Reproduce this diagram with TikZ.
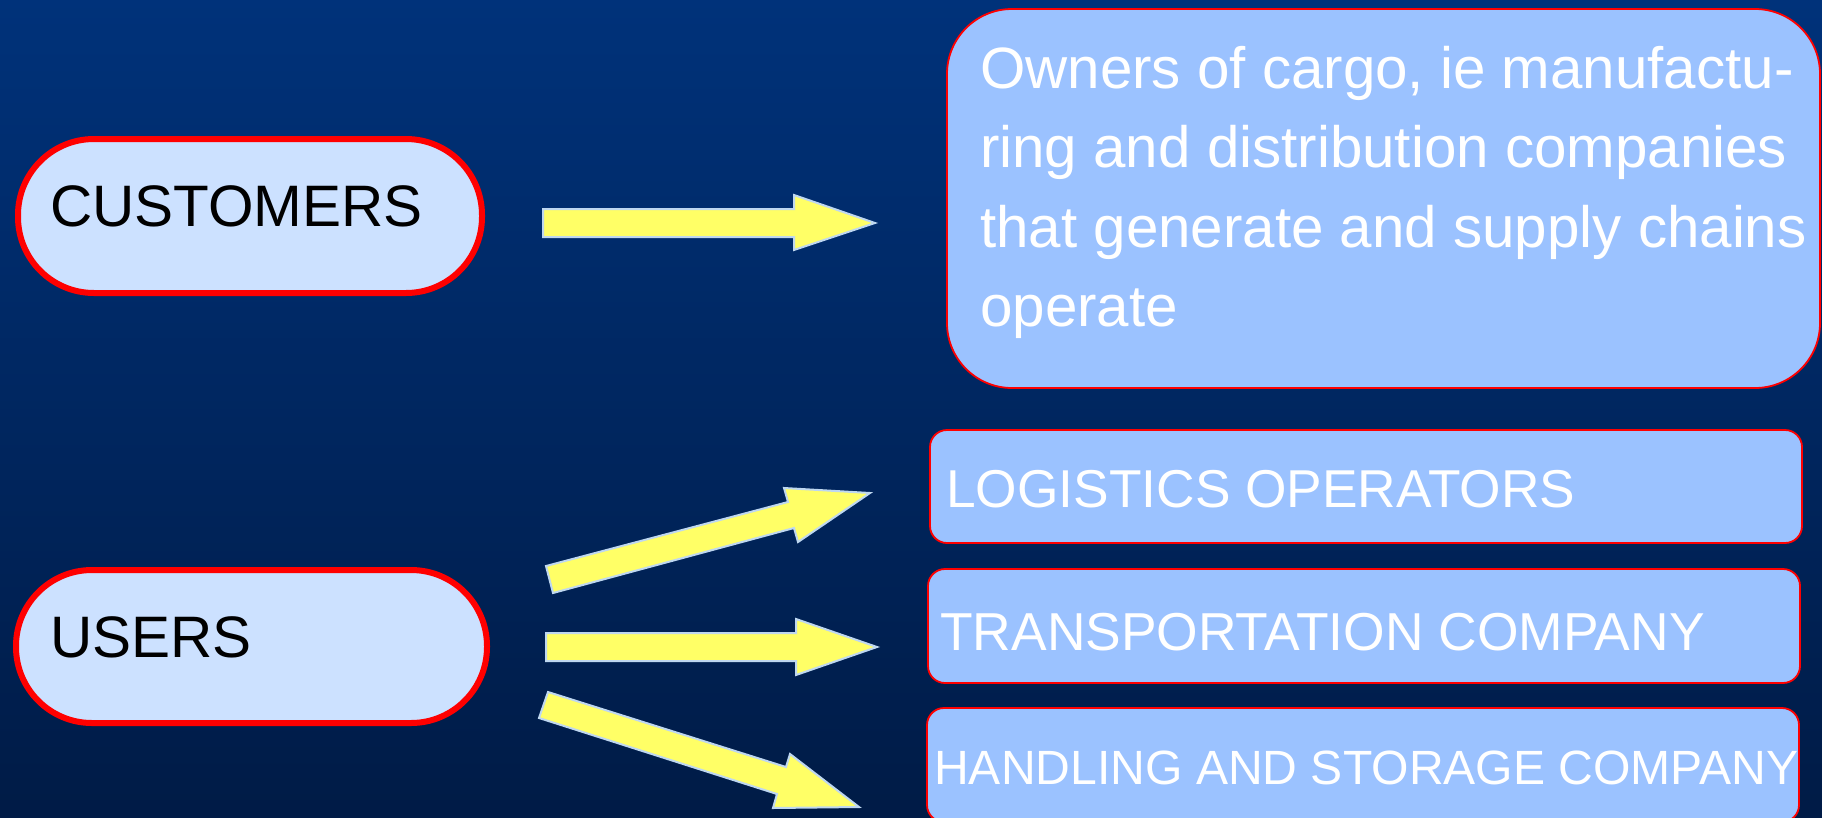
\documentclass[tikz,border=0pt]{standalone}
\usepackage{fontspec}
\setmainfont{Liberation Sans}
\definecolor{bgtop}{RGB}{0,50,122}
\definecolor{bgbot}{RGB}{0,27,70}
\definecolor{lbfill}{RGB}{204,225,255}
\definecolor{rbfill}{RGB}{155,194,255}
\definecolor{arrowfill}{RGB}{255,255,102}
\definecolor{arrowedge}{RGB}{190,215,240}
\definecolor{boxred}{RGB}{255,0,0}
\begin{document}
\begin{tikzpicture}[x=1pt,y=-1pt,
  leftbox/.style={draw=boxred, line width=6pt, fill=lbfill, rounded corners=76pt, inner sep=0pt},
  rightbox/.style={draw=boxred, line width=1.8pt, fill=rbfill, inner sep=0pt},
  blockarrow/.style={fill=arrowfill, draw=arrowedge, line width=2pt, line join=miter},
  darktext/.style={font=\fontsize{58.5}{70}\selectfont, text=black, inner sep=0pt, anchor=base west},
  lighttext/.style={text=white, inner sep=0pt, anchor=base west}]
\clip (0,0) rectangle (1822,817);
\shade[top color=bgtop, bottom color=bgbot] (0,0) rectangle (1822,817);

% left boxes
\node[leftbox, minimum width=464pt, minimum height=154pt] (cust) at (250,216) {};
\node[leftbox, minimum width=471pt, minimum height=153pt] (users) at (251.5,646.5) {};
\node[darktext] (custtxt) at (50,226) {CUSTOMERS};
\node[darktext] (userstxt) at (50,657) {USERS};

% right boxes
\node[rightbox, rounded corners=65pt, minimum width=873pt, minimum height=379pt] (owners) at (1383.5,198.5) {};
\node[rightbox, rounded corners=17pt, minimum width=872pt, minimum height=113pt] (logi) at (1366,486.5) {};
\node[rightbox, rounded corners=17pt, minimum width=872pt, minimum height=114pt] (trans) at (1364,626) {};
\node[rightbox, rounded corners=17pt, minimum width=872pt, minimum height=114pt] (hand) at (1363,765) {};

\node[text=white, inner sep=0pt, anchor=north west, align=left,
      font=\fontsize{58.3}{79.5}\selectfont] (ownerstxt) at (980,46)
  {Owners of cargo, ie manufactu-\\ring and distribution companies\\that generate and supply chains\\operate};
\node[lighttext, font=\fontsize{53.3}{60}\selectfont] (logitxt) at (946,507) {LOGISTICS OPERATORS};
\node[lighttext, font=\fontsize{53.4}{60}\selectfont] (transtxt) at (940,650) {TRANSPORTATION COMPANY};
\node[lighttext, font=\fontsize{48.1}{56}\selectfont] (handtxt) at (934,784) {HANDLING AND STORAGE COMPANY};

% block arrows
\draw[blockarrow] (543,209) -- (794,209) -- (794,195) -- (875,223) -- (794,250) -- (794,237) -- (543,237) -- cycle;
\draw[blockarrow] (553,593) -- (794,528) -- (798,542) -- (870,493) -- (784,488) -- (788,502) -- (546,566) -- cycle;
\draw[blockarrow] (546,633) -- (796,633) -- (796,619) -- (877,647) -- (796,675) -- (796,661) -- (546,661) -- cycle;
\draw[blockarrow] (548,692) -- (786,767) -- (790,754) -- (859,807) -- (773,808) -- (777,794) -- (539,718) -- cycle;
\end{tikzpicture}
\end{document}
